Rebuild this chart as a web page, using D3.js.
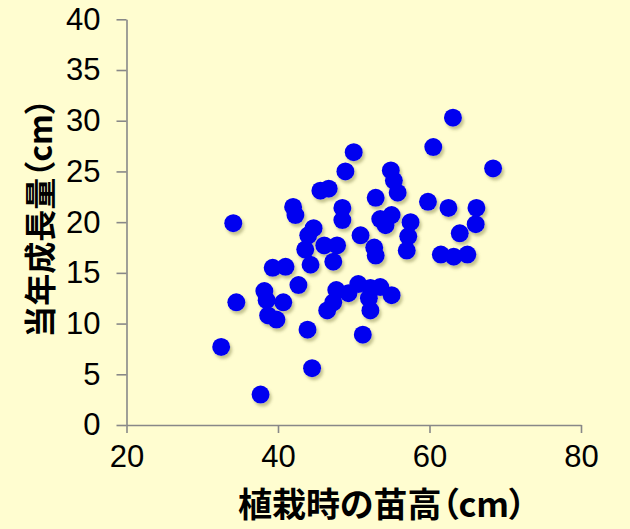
<!DOCTYPE html>
<html><head><meta charset="utf-8">
<script src="https://cdn.jsdelivr.net/npm/d3@7"></script>
<style>
html,body{margin:0;padding:0;background:#FFFDD0;}
svg{display:block;}
</style></head>
<body>
<svg id="chart" width="630" height="529"></svg>
<script>
// 植栽時の苗高 (cm)
const plantHeight = [63.1,60.5,68.4,50.0,48.9,45.6,46.7,54.9,55.3,55.8,52.9,42.0,42.3,48.5,48.5,34.1,59.8,62.5,66.2,66.1,64.0,53.5,55.0,54.2,57.5,57.2,57.0,44.7,44.0,50.9,61.5,63.2,65.0,52.7,52.9,46.1,47.8,47.3,43.6,44.3,39.3,41.0,42.7,38.2,38.5,40.7,34.5,38.7,39.8,32.5,37.7,44.5,43.9,46.5,47.3,47.7,49.3,50.6,52.2,53.5,55.0,52.0,52.2,51.2];
// 当年成長量 (cm)
const growth = [30.3,27.4,25.3,26.9,25.0,23.1,23.3,25.1,24.1,22.9,22.4,21.5,20.7,21.4,20.2,19.9,22.0,21.4,21.4,19.8,18.9,20.3,20.7,19.7,20.0,18.6,17.2,19.4,18.7,18.7,16.8,16.6,16.8,17.5,16.7,17.7,17.7,16.1,17.3,15.8,15.5,15.6,13.8,13.2,12.3,12.1,12.1,10.8,10.4,7.7,3.0,5.6,9.4,11.3,12.1,13.3,13.0,13.9,13.5,13.6,12.8,12.5,11.3,8.9];
const xTicks = [20,40,60,80];
const yTicks = [0,5,10,15,20,25,30,35,40];
const xTitle = "植栽時の苗高（cm）";
const yTitle = "当年成長量（cm）";

const svg = d3.select("#chart");
const x = d3.scaleLinear().domain([20,80]).range([126.5,581]);
const y = d3.scaleLinear().domain([0,40]).range([425,19.3]);

const defs = svg.append("defs");
const f = defs.append("filter").attr("id","sh").attr("x","-50%").attr("y","-50%").attr("width","200%").attr("height","200%");
f.append("feDropShadow").attr("dx",2).attr("dy",3).attr("stdDeviation",1.6)
 .attr("flood-color","#7a7a40").attr("flood-opacity",0.45);

const axisColor = "#888888";
const tickFont = "'Liberation Sans', Arial, sans-serif";

const gx = svg.append("g").attr("transform","translate(0,425)")
  .call(d3.axisBottom(x).tickValues(xTicks).tickSize(8).tickSizeOuter(0).tickPadding(12));
const gy = svg.append("g").attr("transform","translate(126.5,0)")
  .call(d3.axisLeft(y).tickValues(yTicks).tickSize(10).tickSizeOuter(0).tickPadding(16));
[gx,gy].forEach(g=>{
  g.select(".domain").attr("stroke",axisColor).attr("stroke-width",1.6);
  g.selectAll(".tick line").attr("stroke",axisColor).attr("stroke-width",1.6);
  g.selectAll(".tick text").attr("fill","#000").style("font-family",tickFont).style("font-size","31px");
});

svg.append("g").attr("filter","url(#sh)")
  .selectAll("circle").data(plantHeight.map((v,i)=>[v,growth[i]]))
  .join("circle")
  .attr("cx",d=>x(d[0])).attr("cy",d=>y(d[1])).attr("r",9)
  .attr("fill","#0000F0");

const titleFont = "'Noto Sans CJK JP', sans-serif";
svg.append("text").attr("x",382).attr("y",517).attr("text-anchor","middle")
  .style("font-family",titleFont).style("font-weight","bold").style("font-size","34px")
  .style("font-feature-settings","'palt'")
  .text(xTitle);
svg.append("text").attr("transform","translate(52,218) rotate(-90)").attr("text-anchor","middle")
  .style("font-family",titleFont).style("font-weight","bold").style("font-size","32px")
  .style("font-feature-settings","'palt'")
  .text(yTitle);
</script>
</body></html>
